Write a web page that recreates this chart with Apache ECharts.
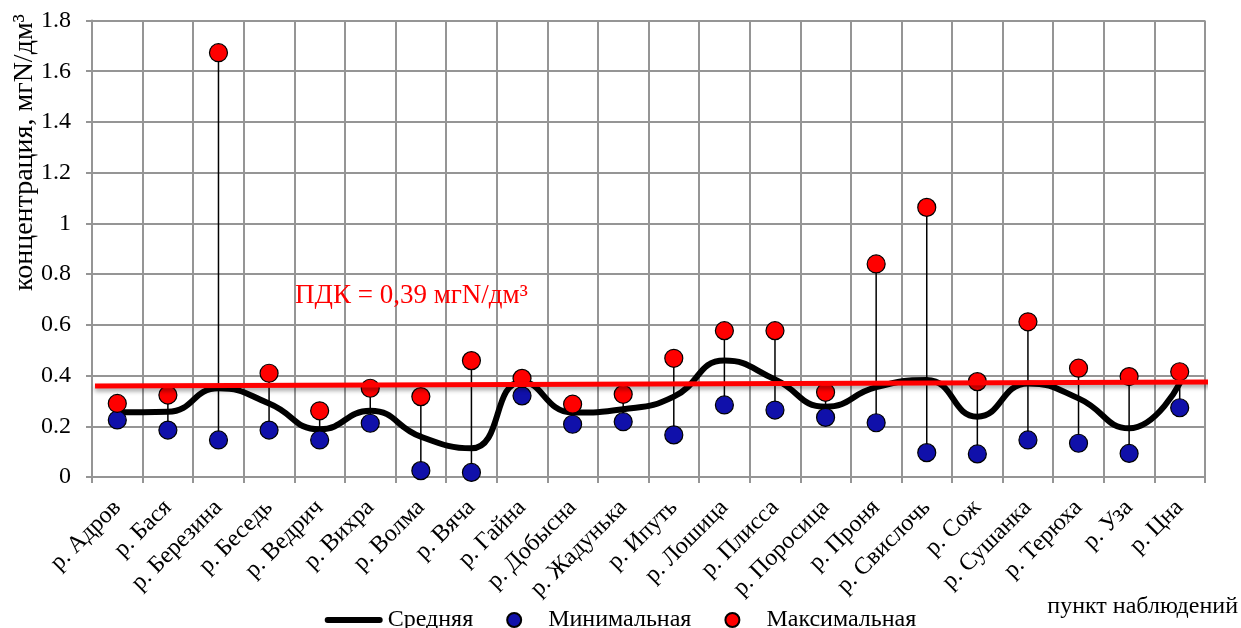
<!DOCTYPE html>
<html>
<head>
<meta charset="utf-8">
<title>Концентрация</title>
<script src="https://cdn.jsdelivr.net/npm/echarts@6/dist/echarts.min.js"></script>
<style>
  html, body { margin: 0; padding: 0; background: #fff; }
  #chart { width: 1241px; height: 628px; }
</style>
</head>
<body>
<div id="chart"></div>
<script>
  // пункты наблюдений
  const rivers = ['р. Адров', 'р. Бася', 'р. Березина', 'р. Беседь', 'р. Ведрич', 'р. Вихра', 'р. Волма', 'р. Вяча',
    'р. Гайна', 'р. Добысна', 'р. Жадунька', 'р. Ипуть', 'р. Лошица', 'р. Плисса', 'р. Поросица', 'р. Проня',
    'р. Свислочь', 'р. Сож', 'р. Сушанка', 'р. Терюха', 'р. Уза', 'р. Цна']
  const avgVals = [0.255, 0.257, 0.35, 0.29, 0.188, 0.261, 0.159, 0.113, 0.376, 0.254, 0.267, 0.317,
    0.459, 0.385, 0.277, 0.354, 0.382, 0.238, 0.369, 0.31, 0.192, 0.369]
  const minVals = [0.225, 0.185, 0.146, 0.185, 0.146, 0.212, 0.025, 0.018, 0.32, 0.208, 0.218, 0.166,
    0.284, 0.264, 0.235, 0.214, 0.096, 0.091, 0.146, 0.133, 0.093, 0.273]
  const maxVals = [0.29, 0.323, 1.673, 0.409, 0.261, 0.35, 0.317, 0.459, 0.389, 0.287, 0.326, 0.468,
    0.577, 0.577, 0.334, 0.84, 1.063, 0.376, 0.612, 0.429, 0.396, 0.415]
  // линия ПДК (по скрытой оси 0..22)
  const pdkLine = [[0.06, 0.359], [22.2, 0.375]]
  const yTicks = { min: 0, max: 1.8, interval: 0.2 }

  const font = 'Liberation Serif, Times New Roman, serif'
  const gridColor = '#959595'

  const chart = echarts.init(document.getElementById('chart'))
  chart.setOption({
    animation: false,
    textStyle: { fontFamily: font, color: '#000' },
    title: {
      text: 'пункт наблюдений',
      right: 3,
      top: 595,
      padding: 0,
      textStyle: { fontFamily: font, fontSize: 24, fontWeight: 'normal', color: '#000' }
    },
    legend: {
      top: 603,
      left: 'center',
      itemWidth: 58,
      itemHeight: 14,
      itemGap: 33,
      textStyle: { fontFamily: font, fontSize: 24, color: '#000' },
      data: [
        { name: 'Средняя', icon: 'path://M3,0 L55,0 A3,3 0 0 1 55,6 L3,6 A3,3 0 0 1 3,0 Z', itemStyle: { color: '#000' } },
        'Минимальная',
        'Максимальная'
      ]
    },
    grid: { left: 92, right: 36, top: 20.5, bottom: 151 },
    xAxis: [{
      type: 'category',
      data: rivers,
      boundaryGap: true,
      axisLine: { lineStyle: { color: gridColor, width: 2 } },
      axisTick: { show: true, length: 6, lineStyle: { color: gridColor, width: 2 } },
      splitLine: { show: true, lineStyle: { color: gridColor, width: 2 } },
      axisLabel: { interval: 0, rotate: 45, margin: 27, fontSize: 24, fontFamily: font, color: '#000' }
    }, {
      type: 'value',
      min: 0,
      max: 22,
      show: false
    }],
    yAxis: {
      type: 'value',
      min: yTicks.min,
      max: yTicks.max,
      interval: yTicks.interval,
      axisLine: { show: true, lineStyle: { color: gridColor, width: 2 } },
      axisTick: { show: true, length: 6, lineStyle: { color: gridColor, width: 2 } },
      splitLine: { lineStyle: { color: gridColor, width: 2 } },
      axisLabel: { margin: 21, fontSize: 24, fontFamily: font, color: '#000' }
    },
    graphic: [{
      type: 'text',
      x: 25,
      y: 14,
      rotation: Math.PI / 2,
      style: {
        text: 'концентрация, мгN/дм³',
        font: '28px ' + font,
        fill: '#000',
        align: 'right',
        verticalAlign: 'middle'
      }
    }, {
      type: 'text',
      x: 295,
      y: 296,
      z: 100,
      style: {
        text: 'ПДК = 0,39 мгN/дм³',
        font: '27px ' + font,
        fill: '#ff0000',
        align: 'left',
        verticalAlign: 'middle'
      }
    }],
    series: [{
      name: 'Средняя',
      type: 'line',
      data: avgVals,
      smooth: 0.5,
      symbol: 'none',
      z: 2,
      lineStyle: { color: '#000', width: 6, cap: 'round' },
      itemStyle: { color: '#000' }
    }, {
      name: 'stems',
      type: 'custom',
      z: 3,
      data: rivers.map((r, i) => [i, minVals[i], maxVals[i]]),
      renderItem(params, api) {
        const lo = api.coord([api.value(0), api.value(1)])
        const hi = api.coord([api.value(0), api.value(2)])
        return {
          type: 'line',
          shape: { x1: lo[0], y1: lo[1], x2: hi[0], y2: hi[1] },
          style: { stroke: '#000', lineWidth: 1.5 }
        }
      }
    }, {
      name: 'Минимальная',
      type: 'scatter',
      data: minVals,
      symbol: 'circle',
      symbolSize: 18,
      z: 4,
      itemStyle: { color: '#1010aa', borderColor: '#000', borderWidth: 1.2, opacity: 1 }
    }, {
      name: 'Максимальная',
      type: 'scatter',
      data: maxVals,
      symbol: 'circle',
      symbolSize: 18,
      z: 5,
      itemStyle: { color: '#ff0000', borderColor: '#000', borderWidth: 1.2, opacity: 1 }
    }, {
      name: 'ПДК',
      type: 'line',
      xAxisIndex: 1,
      data: pdkLine,
      symbol: 'none',
      clip: false,
      z: 6,
      lineStyle: {
        color: '#ff0000',
        width: 5,
        shadowColor: 'rgba(0,0,0,0.35)',
        shadowBlur: 4,
        shadowOffsetY: 3
      }
    }]
  })
</script>
</body>
</html>
